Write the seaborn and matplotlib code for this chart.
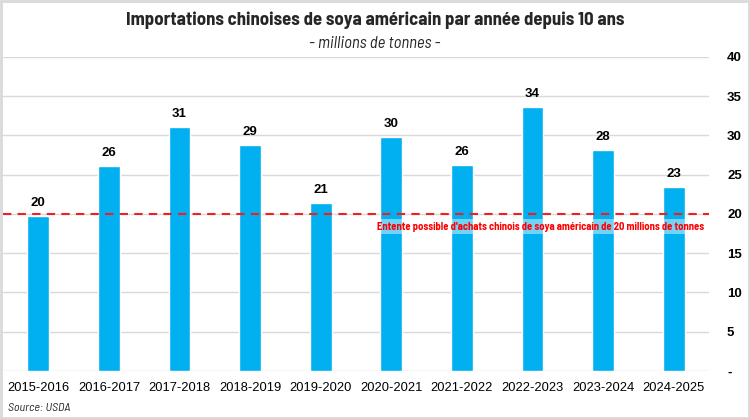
import matplotlib
matplotlib.use("Agg")
import matplotlib.pyplot as plt
import seaborn as sns
import pandas as pd
from matplotlib.patches import Rectangle

seasons = ["2015-2016", "2016-2017", "2017-2018", "2018-2019", "2019-2020",
           "2020-2021", "2021-2022", "2022-2023", "2023-2024", "2024-2025"]
imports = [19.7, 26.1, 31.1, 28.75, 21.4, 29.8, 26.2, 33.6, 28.1, 23.4]
target = 20
yticks = [0, 5, 10, 15, 20, 25, 30, 35, 40]
yticklabels = ["-", "5", "10", "15", "20", "25", "30", "35", "40"]

title = "Importations chinoises de soya américain par année depuis 10 ans"
subtitle = "- millions de tonnes -"
note = "Entente possible d'achats chinois de soya américain de 20 millions de tonnes"
source = "Source: USDA"

sns.set_theme(style="white")
plt.rcParams["font.family"] = ["Liberation Sans", "DejaVu Sans"]
narrow = ["Barlow Semi Condensed", "Liberation Sans", "DejaVu Sans"]

df = pd.DataFrame({"season": seasons, "value": imports})

fig = plt.figure(figsize=(7.5, 4.19), dpi=100)
ax = fig.add_axes([0.004, 0.1146, 0.9413, 0.7494])

sns.barplot(data=df, x="season", y="value", color="#00B0F0", saturation=1,
            width=0.31, ax=ax, zorder=3)

ax.set_xlim(-0.5, len(seasons) - 0.5)
ax.set_ylim(0, 40)
ax.set_xlabel("")
ax.set_ylabel("")
for s in ax.spines.values():
    s.set_visible(False)

ax.yaxis.tick_right()
ax.set_yticks(yticks)
ax.set_yticklabels(yticklabels, fontsize=9.5, fontweight="bold", color="black")
ax.tick_params(axis="y", length=0, pad=13)
ax.tick_params(axis="x", length=0, pad=8, labelsize=9.3, labelcolor="black")
ax.grid(axis="y", color="#d9d9d9", linewidth=1, zorder=0)
ax.set_axisbelow(True)

for i, v in enumerate(imports):
    ax.annotate(f"{v:.0f}", (i, v), xytext=(0, 5), textcoords="offset points",
                ha="center", va="bottom", fontsize=9.5, fontweight="bold",
                color="black", zorder=5)

ax.axhline(target, color="#F02020", linewidth=1.5, linestyle=(0, (4, 3)), zorder=4)
ax.text(len(seasons) - 0.57, target - 1.6, note, ha="right", va="center",
        fontsize=7.6, fontweight="bold", color="#FF0000", family=narrow, zorder=6,
        bbox=dict(facecolor="white", alpha=0.45, edgecolor="none", pad=1.5))

fig.text(0.5, 0.952, title, ha="center", va="center", fontsize=13.5,
         fontweight="bold", family=narrow)
fig.text(0.5, 0.897, subtitle, ha="center", va="center", fontsize=12,
         style="italic", family=narrow)
fig.text(0.011, 0.026, source, ha="left", va="center", fontsize=8.7,
         style="italic", family=narrow)

fig.patches.append(Rectangle((0.001, 0.002), 0.997, 0.996, transform=fig.transFigure,
                             fill=False, edgecolor="#d9d9d9", linewidth=2))

fig.savefig("out.png", dpi=100, facecolor="white")
